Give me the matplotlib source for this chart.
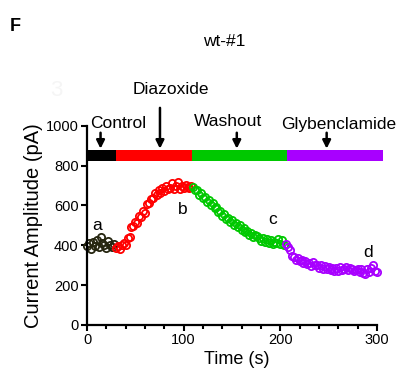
import numpy as np
import matplotlib
matplotlib.use("Agg")
import matplotlib.pyplot as plt
from matplotlib.ticker import MultipleLocator

plt.rcParams["font.family"] = ["Liberation Sans", "DejaVu Sans"]

# ---- data (2 s sampling) ----
t_control = np.arange(0, 30, 2)
i_control = [395, 410, 380, 415, 395, 425, 390, 440, 410, 400, 385, 420, 400, 390, 405]

t_diazo = np.arange(30, 110, 2)
i_diazo = [385, 395, 380, 400, 410, 400, 435, 440, 490, 495,
           515, 510, 545, 540, 570, 560, 605, 610, 630, 635,
           660, 650, 675, 660, 690, 670, 700, 680, 690, 715,
           680, 700, 720, 685, 700, 690, 705, 695, 690, 700]

t_wash = np.arange(110, 206, 2)
i_wash = [695, 675, 675, 650, 660, 635, 640, 615, 625, 600,
          610, 585, 590, 565, 570, 545, 555, 530, 535, 515,
          525, 500, 510, 490, 500, 475, 485, 465, 470, 450,
          460, 440, 450, 445, 435, 420, 435, 415, 430, 410,
          425, 405, 415, 410, 430, 405, 425, 400]

t_gly = np.arange(206, 302, 2)
i_gly = [405, 390, 375, 345, 340, 325, 335, 320, 325, 310,
         320, 305, 310, 295, 315, 300, 300, 285, 300, 280,
         295, 280, 290, 275, 285, 270, 285, 270, 290, 275,
         280, 290, 275, 285, 280, 270, 275, 280, 265, 280,
         260, 255, 280, 265, 285, 300, 270, 265]

# segment bar edges (s) and colours
bar_edges = [0, 30, 109, 207, 306]
bar_colors = ["black", "#ff0000", "#00c800", "#a800ff"]

# drug labels: text, arrow time, text x, text y, arrow tail y
drug_labels = ["Control", "Diazoxide", "Washout", "Glybenclamide"]
arrow_t = [14, 75.5, 155, 248]
text_x = [32, 87, 146, 260]
text_y = [1012, 1180, 1020, 1006]
tail_y = [965, 1090, 965, 965]

point_labels = ["a", "b", "c", "d"]
point_t = [10, 99, 192, 291]
point_y = [500, 578, 528, 362]

# ---- figure ----
fig = plt.figure(figsize=(4.01, 3.80), dpi=100)
ax = fig.add_axes([0.217, 0.145, 0.747, 0.524])

series = [(t_control, i_control, "#262610"),
          (t_diazo, i_diazo, "#ff0000"),
          (t_wash, i_wash, "#00c800"),
          (t_gly, i_gly, "#a800ff")]
for t, v, c in series:
    ax.plot(t, v, "o", mfc="none", mec=c, ms=5.2, mew=1.3, clip_on=False)

for k, c in enumerate(bar_colors):
    ax.fill_between([bar_edges[k], bar_edges[k + 1]], 825, 878,
                    color=c, lw=0, clip_on=False)

for k, lab in enumerate(drug_labels):
    ax.annotate("", xy=(arrow_t[k], 885), xytext=(arrow_t[k], tail_y[k]),
                arrowprops=dict(arrowstyle="-|>", color="black", lw=1.8,
                                mutation_scale=12, shrinkA=0, shrinkB=0),
                annotation_clip=False)
    ax.text(text_x[k], text_y[k], lab, fontsize=12.5, ha="center",
            va="center", clip_on=False)

for k, lab in enumerate(point_labels):
    ax.text(point_t[k], point_y[k], lab, fontsize=12.5, ha="center", va="center")

ax.set_xlim(0, 310)
ax.set_ylim(0, 1000)
ax.spines["top"].set_visible(False)
ax.spines["right"].set_visible(False)
ax.spines["bottom"].set_bounds(0, 300)
for s in ["left", "bottom"]:
    ax.spines[s].set_linewidth(1.6)

ax.set_xticks([0, 100, 200, 300])
ax.xaxis.set_minor_locator(MultipleLocator(20))
ax.set_yticks(range(0, 1001, 200))
ax.tick_params(which="both", width=1.5, length=4, labelsize=10.5, pad=2)
ax.tick_params(which="minor", length=3)

ax.set_xlabel("Time (s)", fontsize=13, labelpad=3)
ax.set_ylabel("Current Amplitude (pA)", fontsize=14.5, labelpad=2)

fig.text(0.558, 0.892, "wt-#1", fontsize=12.5, ha="center", va="center")
fig.text(0.025, 0.929, "F", fontsize=13, fontweight="bold", ha="left", va="center")
fig.text(0.14, 0.763, "3", fontsize=16, color="#f5f5f5", ha="center", va="center")

fig.savefig("out.png", dpi=100)
